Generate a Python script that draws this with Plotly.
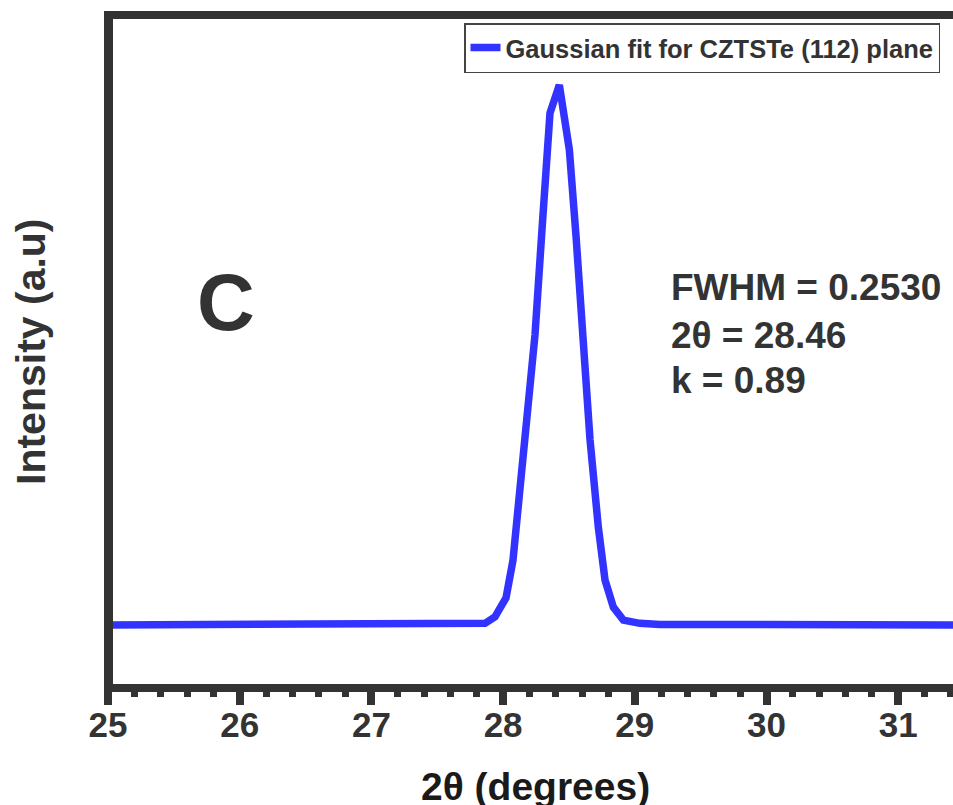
import plotly.graph_objects as go

# Gaussian fit of the CZTSTe (112) reflection, intensity in arbitrary units
two_theta = [25.000, 27.521, 27.749, 27.863, 27.938, 28.022, 28.075, 28.128,
             28.181, 28.242, 28.299, 28.356, 28.427, 28.503, 28.554, 28.609,
             28.660, 28.723, 28.774, 28.837, 28.913, 29.039, 29.191, 31.500]
intensity = [0.0, 0.0, 0.1, 0.3, 1.5, 5.0, 12.0, 25.6,
             39.4, 53.7, 74.6, 94.8, 100.0, 88.0, 71.9, 52.8,
             34.3, 18.1, 8.3, 3.3, 0.9, 0.3, 0.1, 0.0]

x_ticks = [25, 26, 27, 28, 29, 30, 31]
series_name = "Gaussian fit for CZTSTe (112) plane"
fit_notes = ["FWHM = 0.2530", "2θ = 28.46", "k = 0.89"]
panel_label = "C"
x_title = "2θ (degrees)"
y_title = "Intensity (a.u)"

x_range = [24.9696, 31.416]
y_range = [-10.93, 112.22]

W, H = 953, 805
L, R, T, B = 104, 0, 19, 121
PW, PH = W - L - R, H - T - B

FONT = "Liberation Sans, Arial, sans-serif"
DARK = "#333333"


def fx(x_px):
    """pixel column -> paper x"""
    return (x_px - L) / PW


def fy(y_px):
    """pixel row -> paper y"""
    return (H - B - y_px) / PH


fig = go.Figure()
fig.add_trace(go.Scatter(
    x=two_theta, y=intensity, mode="lines", name=series_name,
    line=dict(color="#3333FF", width=7.5),
))

fig.update_layout(
    width=W, height=H,
    margin=dict(l=L, r=R, t=T, b=B, autoexpand=False),
    paper_bgcolor="white", plot_bgcolor="white",
    showlegend=True,
    legend=dict(
        x=fx(940), xanchor="right", y=fy(23), yanchor="top",
        font=dict(family=FONT, size=25.5, color=DARK, weight="bold"),
        bordercolor="#444444", borderwidth=1.5, bgcolor="white",
    ),
    xaxis=dict(
        range=x_range, tickvals=x_ticks, ticks="outside", ticklen=13,
        tickwidth=8, tickcolor=DARK, showline=True, linewidth=8,
        linecolor=DARK, mirror=True, showgrid=False, zeroline=False,
        ticklabelstandoff=-10,
        tickfont=dict(family=FONT, size=35, color=DARK, weight="bold"),
        minor=dict(ticks="outside", tick0=25, dtick=0.2, ticklen=5,
                   tickwidth=7, tickcolor=DARK, showgrid=False),
    ),
    xaxis2=dict(
        overlaying="x", anchor="y", side="top", range=x_range,
        tick0=25, dtick=0.2, ticks="inside", ticklen=3, tickwidth=1,
        tickcolor="#999999", showticklabels=False, showgrid=False,
        zeroline=False, showline=False,
    ),
    yaxis=dict(
        range=y_range, showline=False, showticklabels=False, ticks="",
        showgrid=False, zeroline=False,
    ),
)

# left frame line, centred on the 2θ = 25 position
fig.add_shape(type="line", xref="paper", yref="paper",
              x0=fx(108.5), x1=fx(108.5), y0=fy(692), y1=fy(15),
              line=dict(color=DARK, width=9), layer="above")

bold = dict(family=FONT, color=DARK, weight="bold")

fig.add_annotation(text=panel_label, x=fx(226), y=fy(302), xref="paper",
                   yref="paper", xanchor="center", yanchor="middle",
                   showarrow=False, font=dict(size=80, **bold))

for note, row in zip(fit_notes, [287, 335, 380]):
    fig.add_annotation(text=note, x=fx(669), y=fy(row), xref="paper",
                       yref="paper", xanchor="left", yanchor="middle",
                       showarrow=False, font=dict(size=37, **bold))

fig.add_annotation(text=x_title, x=fx(535), y=fy(786), xref="paper",
                   yref="paper", xanchor="center", yanchor="middle",
                   showarrow=False,
                   font=dict(family=FONT, size=39, color="#1a1a1a",
                             weight="bold"))

fig.add_annotation(text=y_title, x=fx(31), y=fy(352), xref="paper",
                   yref="paper", xanchor="center", yanchor="middle",
                   textangle=-90, showarrow=False,
                   font=dict(size=41, **bold))

fig.write_html("out.html")
